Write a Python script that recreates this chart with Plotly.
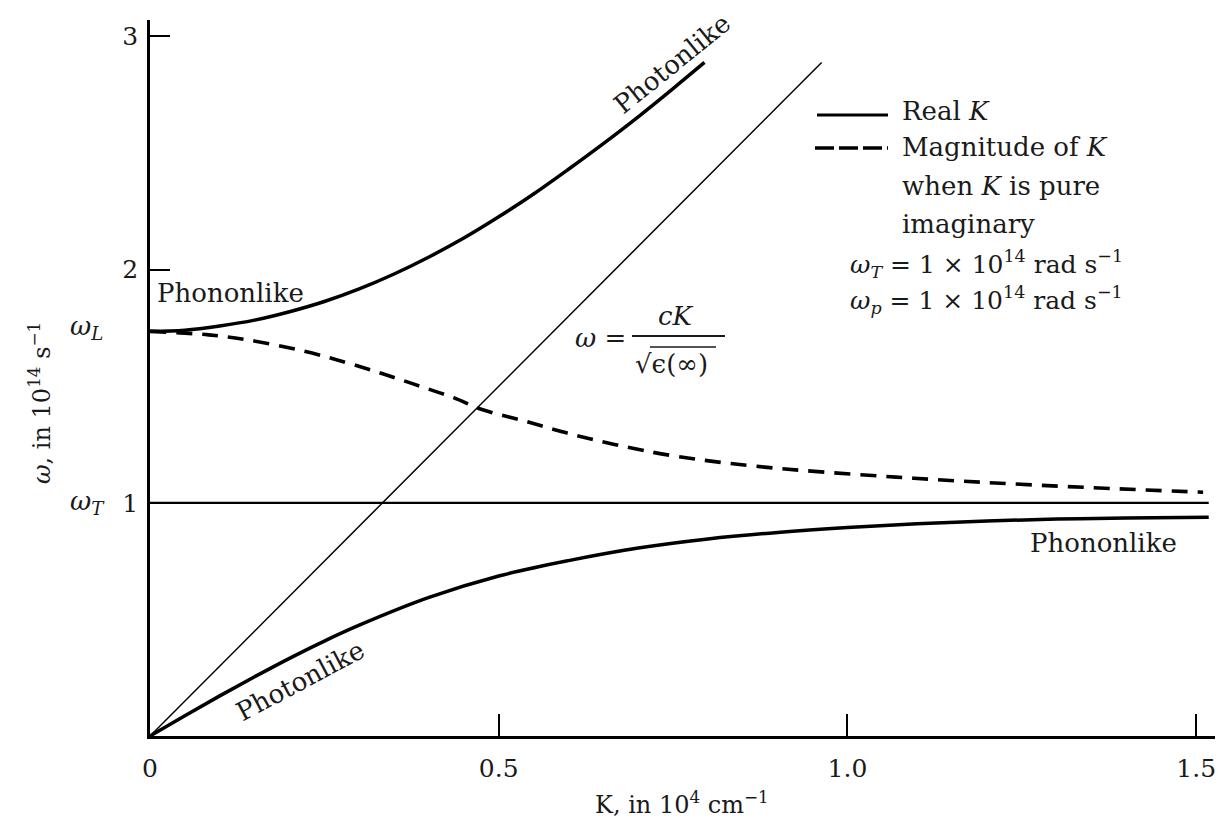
import plotly.graph_objects as go

# ---------------- data ----------------
# upper polariton branch (real K)
K_upper = [0, 0.05, 0.1, 0.15, 0.2, 0.25, 0.3, 0.35, 0.4, 0.45, 0.5, 0.55, 0.6, 0.65, 0.7, 0.75, 0.795]
w_upper = [1.735, 1.740, 1.758, 1.783, 1.819, 1.863, 1.917, 1.981, 2.054, 2.135, 2.226, 2.324, 2.430, 2.540, 2.655, 2.776, 2.888]
# lower polariton branch (real K)
K_lower = [0, 0.05, 0.1, 0.15, 0.2, 0.25, 0.3, 0.4, 0.5, 0.6, 0.7, 0.8, 0.9, 1.0, 1.1, 1.2, 1.3, 1.4, 1.518]
w_lower = [0, 0.087, 0.172, 0.254, 0.333, 0.407, 0.475, 0.594, 0.686, 0.752, 0.806, 0.845, 0.873, 0.894, 0.91, 0.922, 0.93, 0.935, 0.938]
# magnitude of K when K is pure imaginary
K_imag = [0, 0.084, 0.137, 0.221, 0.283, 0.337, 0.387, 0.436, 0.476, 0.538, 0.597, 0.666, 0.753, 0.874, 1.07, 1.276, 1.51]
w_imag = [1.735, 1.72, 1.70, 1.65, 1.60, 1.55, 1.50, 1.45, 1.40, 1.35, 1.30, 1.25, 1.20, 1.155, 1.11, 1.075, 1.045]
# light line  w = cK / sqrt(eps(inf))
K_light = [0, 0.963]
w_light = [0, 2.888]
# omega_T level
K_wT = [0, 1.518]
w_wT = [1, 1]

x_tick_vals = [0, 0.5, 1.0, 1.5]
x_tick_text = ["0", "0.5", "1.0", "1.5"]
y_tick_vals = [1, 2, 3]
y_tick_text = ["1", "2", "3"]

# ---------------- layout helpers ----------------
W, H = 1220, 822
PL, PR, PT, PB = 150, 1215, 20, 736   # plot area in page pixels
L, T, R, B = PL, PT, W - PR, H - PB
XR = [0, 1.527]
YR = [0, 3.07]


def px(x):
    return (x - PL) / (PR - PL)


def py(y):
    return (PB - y) / (PB - PT)


FONT = "DejaVu Serif"
TXT = "#1a1a1a"
DASH = "16px,10px"

fig = go.Figure()
fig.add_trace(go.Scatter(x=K_light, y=w_light, mode="lines",
                         line=dict(color="black", width=1.5), hoverinfo="skip"))
fig.add_trace(go.Scatter(x=K_wT, y=w_wT, mode="lines",
                         line=dict(color="black", width=2.2), hoverinfo="skip"))
fig.add_trace(go.Scatter(x=K_imag, y=w_imag, mode="lines",
                         line=dict(color="black", width=3.6, dash=DASH, shape="spline"),
                         hoverinfo="skip"))
fig.add_trace(go.Scatter(x=K_upper, y=w_upper, mode="lines",
                         line=dict(color="black", width=3.5, shape="spline"), hoverinfo="skip"))
fig.add_trace(go.Scatter(x=K_lower, y=w_lower, mode="lines",
                         line=dict(color="black", width=3.5, shape="spline"), hoverinfo="skip"))

annotations = []


def note(text, x, y, size=26, xanchor="center", yanchor="middle", angle=0):
    annotations.append(dict(text=text, x=px(x), y=py(y), xref="paper", yref="paper",
                            showarrow=False, xanchor=xanchor, yanchor=yanchor,
                            textangle=angle, font=dict(family=FONT, size=size, color=TXT)))


# curve labels
note("Photonlike", 672, 64, angle=-39)
note("Phononlike", 155, 293, xanchor="left")
note("Photonlike", 300, 681, angle=-28)
note("Phononlike", 1103, 543)
# formula
note("<i>ω</i> =", 573, 338, xanchor="left")
note("<i>cK</i>", 676, 316)
note("√ϵ(∞)", 671, 364)
# legend block
note("Real <i>K</i>", 900, 111, xanchor="left")
note("Magnitude of <i>K</i>", 900, 147, xanchor="left")
note("when <i>K</i> is pure", 900, 186, xanchor="left")
note("imaginary", 900, 224, xanchor="left")
note("<i>ω</i><sub><i>T</i></sub> = 1 × 10<sup>14</sup> rad s<sup>−1</sup>", 848, 264, size=25, xanchor="left")
note("<i>ω</i><sub><i>p</i></sub> = 1 × 10<sup>14</sup> rad s<sup>−1</sup>", 848, 300, size=25, xanchor="left")
# left side level labels
note("<i>ω</i><sub><i>L</i></sub>", 68, 327, xanchor="left")
note("<i>ω</i><sub><i>T</i></sub>", 68, 502, xanchor="left")
# axis titles
note("<i>ω</i>, in 10<sup>14</sup> s<sup>−1</sup>", 40, 403, size=24, angle=-90)
note("K, in 10<sup>4</sup> cm<sup>−1</sup>", 682, 803, size=24)


def seg(x0, x1, y, width, dash="solid", color="black"):
    return dict(type="line", xref="paper", yref="paper", x0=px(x0), x1=px(x1),
                y0=py(y), y1=py(y), line=dict(color=color, width=width, dash=dash))


shapes = [
    seg(632, 725, 336, 2, color=TXT),            # fraction bar
    seg(650, 716, 347, 1.5, color=TXT),          # sqrt overline
    seg(817, 888, 115, 3),                        # legend: real K
    seg(815, 888, 148, 3.6, dash="19px,5px"),     # legend: imaginary K
]

fig.update_layout(
    width=W, height=H,
    margin=dict(l=L, r=R, t=T, b=B, pad=0, autoexpand=False),
    paper_bgcolor="white", plot_bgcolor="white",
    showlegend=False,
    annotations=annotations,
    shapes=shapes,
    xaxis=dict(range=XR, showgrid=False, zeroline=False, showline=True,
               linecolor="black", linewidth=2.5, ticks="inside", ticklen=22, tickwidth=2,
               tickcolor="black", tickvals=x_tick_vals, ticktext=x_tick_text,
               tickfont=dict(family=FONT, size=25, color=TXT), ticklabelstandoff=8,
               fixedrange=True, automargin=False),
    yaxis=dict(range=YR, showgrid=False, zeroline=False, showline=True,
               linecolor="black", linewidth=2.5, ticks="inside", ticklen=20, tickwidth=2,
               tickcolor="black", tickvals=y_tick_vals, ticktext=y_tick_text,
               tickfont=dict(family=FONT, size=25, color=TXT), ticklabelstandoff=4,
               fixedrange=True, automargin=False),
)

fig.write_html("out.html", config={"displayModeBar": False},
               post_script="document.body.style.margin='0';document.body.style.overflow='hidden';")
